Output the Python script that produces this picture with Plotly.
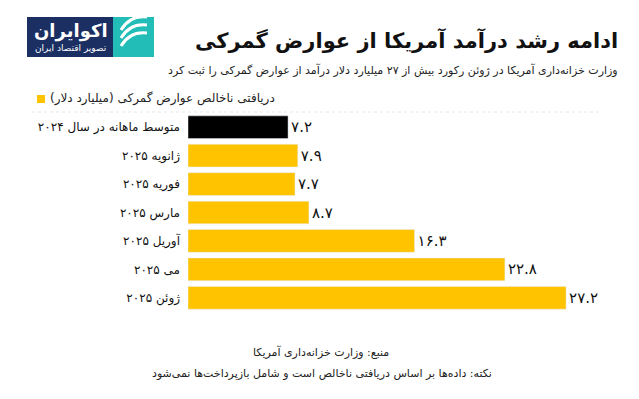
import plotly.graph_objects as go

categories = ["متوسط ماهانه در سال ۲۰۲۴", "ژانویه ۲۰۲۵", "فوریه ۲۰۲۵", "مارس ۲۰۲۵",
              "آوریل ۲۰۲۵", "می ۲۰۲۵", "ژوئن ۲۰۲۵"]
values = [7.2, 7.9, 7.7, 8.7, 16.3, 22.8, 27.2]
value_labels = ["۷.۲", "۷.۹", "۷.۷", "۸.۷", "۱۶.۳", "۲۲.۸", "۲۷.۲"]
series_name = "دریافتی ناخالص عوارض گمرکی (میلیارد دلار)"
title = "ادامه رشد درآمد آمریکا از عوارض گمرکی"
subtitle = "وزارت خزانه‌داری آمریکا در ژوئن رکورد بیش از ۲۷ میلیارد دلار درآمد از عوارض گمرکی را ثبت کرد"
source = "منبع: وزارت خزانه‌داری آمریکا"
note = "نکته: داده‌ها بر اساس دریافتی ناخالص است و شامل بازپرداخت‌ها نمی‌شود"

W, H = 639, 399
L, R, T, B = 188, 39, 113, 87
FONT = "DejaVu Sans"
YELLOW = "#FFC300"

fig = go.Figure()
fig.add_trace(go.Bar(
    y=categories[:1], x=values[:1], orientation="h", marker_color="#000000",
    text=value_labels[:1], textposition="outside", showlegend=False,
    textfont=dict(size=15, color="#111"), cliponaxis=False))
fig.add_trace(go.Bar(
    y=categories[1:], x=values[1:], orientation="h", marker_color=YELLOW,
    text=value_labels[1:], textposition="outside", name=series_name, showlegend=False,
    textfont=dict(size=15, color="#111"), cliponaxis=False))

def px(x):
    return (x - L) / (W - L - R)

def py(y):
    return (H - B - y) / (H - T - B)

shapes = [
    dict(type="rect", xref="paper", yref="paper", x0=px(27), x1=px(113), y0=py(57), y1=py(17),
         fillcolor="#1B2F63", line_width=0, layer="above"),
    dict(type="rect", xref="paper", yref="paper", x0=px(113), x1=px(154), y0=py(57), y1=py(17),
         fillcolor="#22BDB6", line_width=0, layer="above"),
    dict(type="line", xref="paper", yref="paper", x0=px(32), x1=px(600), y0=py(112), y1=py(112),
         line=dict(color="#e6e6e6", width=1, dash="dot")),
    # legend swatch
    dict(type="rect", xref="paper", yref="paper", x0=px(37), x1=px(45), y0=py(103), y1=py(95),
         fillcolor=YELLOW, line_width=0),
]
for i in range(3):
    shapes.append(dict(type="path", xref="paper", yref="paper",
                       path=f"M {px(121)},{py(46 - i*8)} Q {px(130)},{py(31 - i*8)} {px(147)},{py(33 - i*8)}",
                       line=dict(color="white", width=3), layer="above"))

annotations = [
    dict(text="<b>" + title + "</b>", xref="paper", yref="paper", x=px(620), y=py(40), xanchor="right",
         yanchor="middle", showarrow=False, font=dict(family=FONT, size=21, color="#111")),
    dict(text=subtitle, xref="paper", yref="paper", x=px(620), y=py(70), xanchor="right", yanchor="middle",
         showarrow=False, font=dict(family=FONT, size=11, color="#222")),
    dict(text=series_name, xref="paper", yref="paper", x=px(48), y=py(99), xanchor="left", yanchor="middle",
         showarrow=False, font=dict(family=FONT, size=12, color="#222")),
    dict(text=source, xref="paper", yref="paper", x=px(321), y=py(352), xanchor="center", yanchor="middle",
         showarrow=False, font=dict(family=FONT, size=11, color="#222")),
    dict(text=note, xref="paper", yref="paper", x=px(322), y=py(373), xanchor="center", yanchor="middle",
         showarrow=False, font=dict(family=FONT, size=11, color="#222")),
    dict(text="<b>اکوایران</b>", xref="paper", yref="paper", x=px(71), y=py(31), xanchor="center", yanchor="middle",
         showarrow=False, font=dict(family=FONT, size=18, color="white")),
    dict(text="تصویر اقتصاد ایران", xref="paper", yref="paper", x=px(71), y=py(48), xanchor="center", yanchor="middle",
         showarrow=False, font=dict(family=FONT, size=9, color="white")),
]

fig.update_layout(
    width=W, height=H, margin=dict(l=L, r=R, t=T, b=B, autoexpand=False),
    paper_bgcolor="white", plot_bgcolor="white",
    font=dict(family=FONT, size=12, color="#111"),
    barmode="overlay", bargap=0.2, showlegend=False,
    xaxis=dict(range=[0, (W - L - R) / 13.9], visible=False, fixedrange=True),
    yaxis=dict(autorange=False, range=[6.5, -0.5], categoryorder="array", categoryarray=categories,
               showgrid=False, zeroline=False, showline=False, ticks="", ticklabelstandoff=7,
               automargin=False, tickfont=dict(family=FONT, size=12, color="#111")),
    shapes=shapes, annotations=annotations,
)

fig.write_html("out.html", config={"displayModeBar": False},
               post_script="document.body.style.margin='0';document.body.style.padding='0';")
